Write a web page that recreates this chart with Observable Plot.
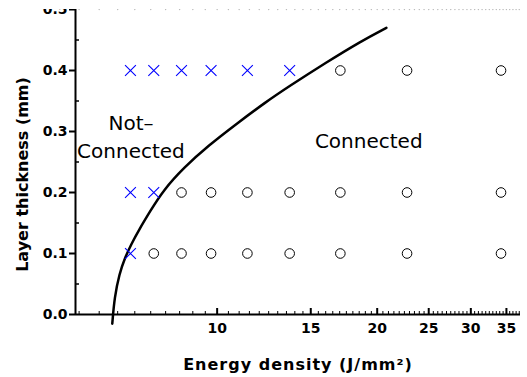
<!DOCTYPE html>
<html><head><meta charset="utf-8">
<script src="https://cdn.jsdelivr.net/npm/d3@7"></script>
<script src="https://cdn.jsdelivr.net/npm/@observablehq/plot@0.6"></script>
<style>
body{margin:0;background:#fff}
#chart svg{display:block;clip-path:inset(9px 0 0 0)}
</style>
</head><body><div id="chart"></div>
<script>
// Energy density levels (J/mm^2) tested
const energyLevels = [6.87, 7.60, 8.57, 9.74, 11.40, 13.69, 17.05, 22.76, 34.19];
// Layer thickness levels (mm)
const thicknessLevels = [0.1, 0.2, 0.4];
// x = not connected, o = connected
const status01 = ["x","o","o","o","o","o","o","o","o"];
const status02 = ["x","x","o","o","o","o","o","o","o"];
const status04 = ["x","x","x","x","x","x","o","o","o"];
const statusRows = [status01, status02, status04];

// Boundary curve
const curveEnergy =    [6.35, 6.41, 6.55, 6.70, 6.90, 7.12, 7.49, 7.91, 8.66, 9.63, 10.89, 12.33, 13.65, 16.02, 18.64, 20.81];
const curveThickness = [-0.015, 0.028, 0.067, 0.092, 0.116, 0.138, 0.170, 0.203, 0.241, 0.277, 0.313, 0.348, 0.374, 0.413, 0.448, 0.470];

// Region annotations
const noteText = ["Not\u2013", "Connected", "Connected"];
const noteEnergy = [6.885, 6.885, 19.28];
const noteThickness = [0.313, 0.267, 0.284];

// Tick values
const xMajor = [10, 15, 20, 25, 30, 35];
const xMinor = d3.range(5.5, 37.01, 0.5).filter(v => !xMajor.includes(v));
const yMajor = [0, 0.1, 0.2, 0.3, 0.4, 0.5];
const yMinor = [0.05, 0.15, 0.25, 0.35, 0.45];

const points = [];
thicknessLevels.forEach((t, j) => statusRows[j].forEach((s, i) => points.push({E: energyLevels[i], t, s})));
const curve = curveEnergy.map((E, i) => ({E, t: curveThickness[i]}));
const notes = noteText.map((text, i) => ({text, E: noteEnergy[i], t: noteThickness[i]}));
const topDots = [...xMinor, ...xMajor].map(E => ({E, t: 0.5}));

const bold = {fontFamily: "DejaVu Sans", fontWeight: "bold", fontSize: 14};

const plot = Plot.plot({
  width: 527, height: 377,
  marginLeft: 75, marginRight: 7, marginTop: 9, marginBottom: 63,
  style: {fontFamily: "DejaVu Sans", fontSize: "14px", background: "#fff", color: "#000", overflow: "visible"},
  x: {type: "log", domain: [5.415, 37.2]},
  y: {domain: [0, 0.5]},
  marks: [
    Plot.dot(topDots, {x: "E", y: "t", r: 0.7, fill: "#bbb", stroke: null}),
    Plot.ruleY([0], {stroke: "#000", strokeWidth: 2}),
    Plot.ruleX([5.415], {stroke: "#000", strokeWidth: 2}),
    Plot.axisY({ticks: yMajor, tickFormat: d3.format(".1f"), tickSize: 6, tickPadding: 2, strokeWidth: 2, label: null, ...bold}),
    Plot.axisY({ticks: yMinor, tickFormat: () => "", tickSize: -4, strokeWidth: 1.5, label: null}),
    Plot.axisX({ticks: xMajor, tickFormat: d3.format("d"), tickSize: -6, tickPadding: 15, strokeWidth: 2, label: null, ...bold}),
    Plot.axisX({ticks: xMinor, tickFormat: () => "", tickSize: -3, strokeWidth: 1, label: null}),
    Plot.text(["Energy density (J/mm\u00b2)"], {frameAnchor: "bottom", lineAnchor: "middle", textAnchor: "middle", dy: 50, fontFamily: "DejaVu Sans", fontWeight: "bold", fontSize: 16}),
    Plot.text(["Layer thickness (mm)"], {frameAnchor: "left", textAnchor: "middle", lineAnchor: "middle", rotate: -90, dx: -52.5, dy: 12.5, fontFamily: "DejaVu Sans", fontWeight: "bold", fontSize: 16}),
    Plot.line(curve, {x: "E", y: "t", curve: "basis", stroke: "#000", strokeWidth: 2.5}),
    Plot.dot(points.filter(d => d.s === "x"), {x: "E", y: "t", symbol: "times", r: 5, stroke: "#0000ff", strokeWidth: 1.1}),
    Plot.dot(points.filter(d => d.s === "o"), {x: "E", y: "t", symbol: "circle", r: 4.8, stroke: "#000", fill: "none", strokeWidth: 1}),
    Plot.text(notes, {x: "E", y: "t", text: "text", fontFamily: "DejaVu Sans", fontSize: 20, fill: "#000"})
  ]
});
document.getElementById("chart").appendChild(plot);
plot.querySelectorAll("text").forEach(t => {
  if (t.textContent.startsWith("Energy density")) t.setAttribute("letter-spacing", "1");
});
</script>
</body></html>
